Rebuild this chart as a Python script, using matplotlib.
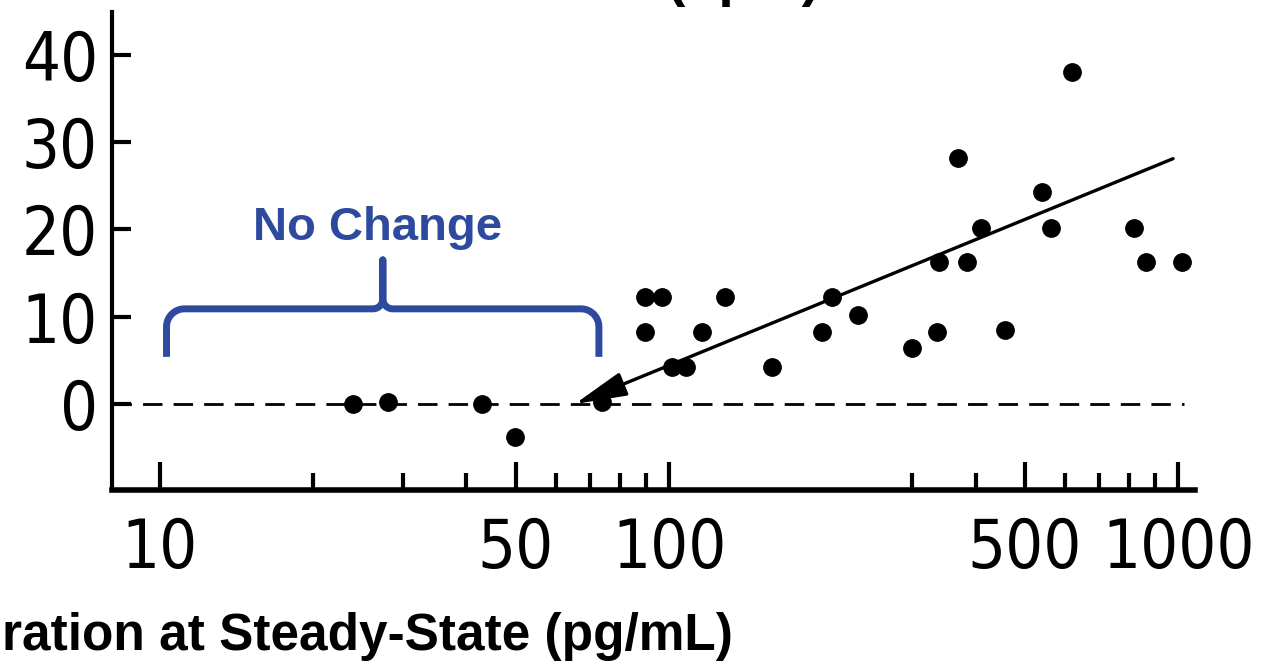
import numpy as np
import matplotlib
matplotlib.use("Agg")
import matplotlib.pyplot as plt
from matplotlib import font_manager
from matplotlib.font_manager import FontProperties
from matplotlib.ticker import FixedLocator, NullFormatter

# data
conc = [23.9, 28.1, 43.0, 49.8, 73.8, 89.8, 96.9, 89.8, 116, 128.9,
        101.4, 108, 159, 209, 200, 235, 300, 336, 457, 339,
        384, 865, 1018, 370, 619, 541, 410, 562, 820]
change = [0, 0.2, 0, -3.8, 0.2, 12.3, 12.3, 8.2, 8.2, 12.3,
          4.2, 4.2, 4.2, 12.3, 8.2, 10.2, 6.4, 8.2, 8.5, 16.3,
          16.3, 16.3, 16.3, 28.2, 38.0, 24.3, 20.2, 20.2, 20.2]

fit_x = [65.3, 977]
fit_y = [0, 28.1]

major_x = [10, 50, 100, 500, 1000]
major_x_labels = ["10", "50", "100", "500", "1000"]
minor_x = [20, 30, 40, 60, 70, 80, 90, 300, 400, 600, 700, 800, 900]
y_ticks = [0, 10, 20, 30, 40]

# brace over the "no change" region (data units)
brace_left, brace_mid, brace_right = 10.3, 27.4, 72.8
brace_base, brace_bar, brace_tip = 5.4, 10.9, 16.5

blue = "#2e4a9e"

# look for a narrow face for the tick digits
fonts = font_manager.fontManager.ttflist
narrow = [f for f in fonts
          if f.stretch in ("condensed", "semi-condensed", "extra-condensed")
          and f.style == "normal" and f.weight in (400, "normal", "regular")]
if narrow:
    tick_fp = FontProperties(fname=narrow[0].fname, size=48)
else:
    tick_fp = FontProperties(family="DejaVu Sans", size=42)

names = {f.name for f in fonts}
bold_font = "Liberation Sans" if "Liberation Sans" in names else "DejaVu Sans"

fig = plt.figure(figsize=(12.66, 6.64), dpi=100)
ax = fig.add_axes([112 / 1266, 174 / 664, 1083 / 1266, 478 / 664])
ax.set_xscale("log")
ax.set_xlim(8.05, 1079)
ax.set_ylim(-9.85, 44.9)

for s in ["top", "right"]:
    ax.spines[s].set_visible(False)
ax.spines["left"].set_linewidth(3)
ax.spines["bottom"].set_linewidth(4)

ax.xaxis.set_major_locator(FixedLocator(major_x))
ax.xaxis.set_minor_locator(FixedLocator(minor_x))
ax.xaxis.set_minor_formatter(NullFormatter())
ax.set_xticklabels(major_x_labels)
ax.set_yticks(y_ticks)

ax.tick_params(axis="x", which="major", direction="in", length=20, width=3, pad=19)
ax.tick_params(axis="x", which="minor", direction="in", length=12, width=3)
ax.tick_params(axis="y", direction="in", length=14, width=3, pad=10)
for lab in ax.get_xticklabels() + ax.get_yticklabels():
    lab.set_fontproperties(tick_fp)

# zero line
ax.axhline(0, xmax=0.99, color="black", lw=2, dashes=(7, 4))

# points
ax.plot(conc, change, "o", color="black", markersize=12.5, zorder=3)

# regression line with arrow head at its lower end
ax.annotate("", xy=(fit_x[0], fit_y[0]), xytext=(fit_x[1], fit_y[1]),
            arrowprops=dict(arrowstyle="-|>,head_length=3.2,head_width=0.75",
                            lw=2.4, color="black", shrinkA=0, shrinkB=0))

# curly brace, built in pixel space so the corners are round
fig.canvas.draw()
to_px = ax.transData.transform
xl, yb = to_px((brace_left, brace_base))
xm, yh = to_px((brace_mid, brace_bar))
xr, yt = to_px((brace_right, brace_tip))
r, r2 = 18, 10
pts = [(xl, yb), (xl, yh - r)]
a = np.linspace(np.pi, np.pi / 2, 20)
pts += list(zip(xl + r + r * np.cos(a), yh - r + r * np.sin(a)))
a = np.linspace(-np.pi / 2, 0, 20)
pts += list(zip(xm - r2 + r2 * np.cos(a), yh + r2 + r2 * np.sin(a)))
pts += [(xm, yt)]
a = np.linspace(np.pi, 3 * np.pi / 2, 20)
pts += list(zip(xm + r2 + r2 * np.cos(a), yh + r2 + r2 * np.sin(a)))
a = np.linspace(np.pi / 2, 0, 20)
pts += list(zip(xr - r + r * np.cos(a), yh - r + r * np.sin(a)))
pts += [(xr, yb)]
brace = ax.transData.inverted().transform(np.array(pts))
ax.plot(brace[:, 0], brace[:, 1], color=blue, lw=5, solid_capstyle="butt",
        solid_joinstyle="round", clip_on=False)

ax.text(26.8, 20.2, "No Change", color=blue, fontsize=34, fontweight="bold",
        family=bold_font, ha="center", va="center")

# axis label (the slide crops its start) and the bottom of the title
fig.text(733 / 1266, 14 / 664, "ration at Steady-State (pg/mL)",
         ha="right", va="baseline", fontsize=37, fontweight="bold", family=bold_font)
fig.text(820 / 1266, 1 + 5 / 664, "(bpm)",
         ha="right", va="baseline", fontsize=40, fontweight="bold", family=bold_font)

fig.savefig("out.png", dpi=100)
